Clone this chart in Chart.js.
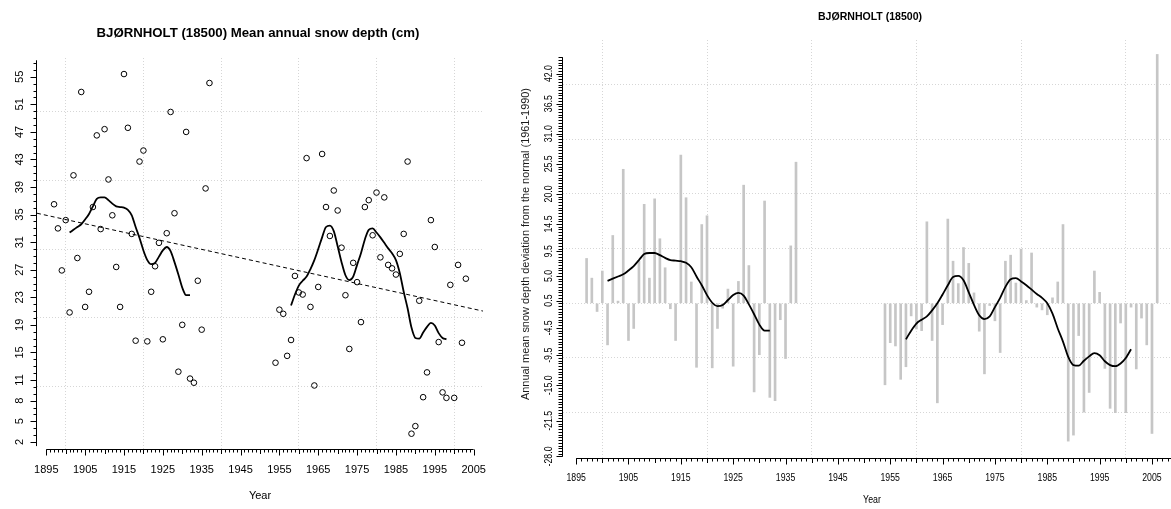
<!DOCTYPE html>
<html>
<head>
<meta charset="utf-8">
<script src="https://cdn.jsdelivr.net/npm/chart.js@4.4.1/dist/chart.umd.min.js"></script>
<style>
  html, body { margin: 0; padding: 0; background: #fff; overflow: hidden; }
  body { width: 1171px; height: 509px; position: relative; }
  canvas { position: absolute; top: 0; }
  #left { left: 0; }
  #right { left: 510px; }
</style>
</head>
<body>
<canvas id="left" width="516" height="509"></canvas>
<canvas id="right" width="720" height="509"></canvas>
<script>
// ---- data ----

// years with an observation (left panel)
const years = [1897, 1898, 1899, 1900, 1901, 1902, 1903, 1904, 1905, 1906, 1907, 1908, 1909, 1910,
  1911, 1912, 1913, 1914, 1915, 1916, 1917, 1918, 1919, 1920, 1921, 1922, 1923, 1924, 1925, 1926,
  1927, 1928, 1929, 1930, 1931, 1932, 1933, 1934, 1935, 1936, 1937,
  1954, 1955, 1956, 1957, 1958, 1959, 1960, 1961, 1962, 1963, 1964, 1965, 1966, 1967, 1968, 1969,
  1970, 1971, 1972, 1973, 1974, 1975, 1976, 1977, 1978, 1979, 1980, 1981, 1982, 1983, 1984, 1985,
  1986, 1987, 1988, 1989, 1990, 1991, 1992, 1993, 1994, 1995, 1996, 1997, 1998, 1999, 2000, 2001,
  2002, 2003];

// mean annual snow depth (cm)
const snowDepth = [36.5, 33.0, 26.9, 34.2, 20.8, 40.7, 28.7, 52.8, 21.6, 23.8, 36.1, 46.5, 32.9, 47.4,
  40.1, 34.9, 27.4, 21.6, 55.4, 47.6, 32.2, 16.7, 42.7, 44.3, 16.6, 23.8, 27.5, 30.9, 16.9, 32.3,
  49.9, 35.2, 12.2, 19.0, 47.0, 11.2, 10.6, 25.4, 18.3, 38.8, 54.1,
  13.5, 21.2, 20.6, 14.5, 16.8, 26.1, 23.7, 23.4, 43.2, 21.6, 10.2, 24.5, 43.8, 36.1, 31.9, 38.5,
  35.6, 30.2, 23.3, 15.5, 28.0, 25.2, 19.4, 36.1, 37.1, 32.0, 38.2, 28.8, 37.5, 27.7, 27.2, 26.3,
  29.3, 32.2, 42.7, 3.2, 4.3, 22.5, 8.5, 12.1, 34.2, 30.3, 16.5, 9.2, 8.4, 24.8, 8.4, 27.7,
  16.4, 25.7];

// smoothed curve, left panel
const smoothYearsA = [1901, 1902, 1903, 1904, 1905, 1906, 1907, 1908, 1909, 1910, 1911, 1912, 1913,
  1914, 1915, 1916, 1917, 1918, 1919, 1920, 1921, 1922, 1923, 1924, 1925, 1926, 1927, 1928, 1929,
  1930, 1931, 1932];
const smoothA = [32.4, 32.8, 33.2, 33.6, 34.3, 35.1, 36.2, 37.3, 37.5, 37.5, 37.1, 36.6, 36.2,
  36.1, 36.0, 35.7, 34.9, 33.2, 31.6, 29.8, 28.4, 27.8, 28.0, 28.9, 29.8, 30.3, 29.7, 28.1, 26.3,
  24.4, 23.3, 23.3];
const smoothYearsB = [1958, 1959, 1960, 1961, 1962, 1963, 1964, 1965, 1966, 1967, 1968, 1969, 1970,
  1971, 1972, 1973, 1974, 1975, 1976, 1977, 1978, 1979, 1980, 1981, 1982, 1983, 1984, 1985, 1986,
  1987, 1988, 1989, 1990, 1991, 1992, 1993, 1994, 1995, 1996, 1997, 1998];
const smoothB = [21.8, 23.4, 24.7, 25.4, 26.0, 27.1, 28.4, 30.0, 31.7, 33.2, 33.4, 32.6, 30.4,
  28.1, 26.2, 25.5, 26.0, 27.7, 29.4, 31.4, 32.8, 33.0, 32.4, 31.7, 30.9, 30.1, 29.4, 28.4, 26.5,
  23.8, 21.4, 18.6, 17.1, 17.0, 17.9, 18.7, 19.3, 18.9, 17.8, 17.1, 16.9];

// linear trend (dashed), end points at the plot edges
const trendYears = [1892.6, 2007.4];
const trendDepth = [35.2, 21.0];

// deviation from the 1961-1990 normal (right panel)
const devYears = years.concat([2004, 2005, 2006]);
const deviation = [8.2, 4.6, -1.5, 5.9, -7.6, 12.4, 0.4, 24.5, -6.8, -4.6, 7.7, 18.1, 4.6, 19.1,
  11.8, 6.5, -1.0, -6.8, 27.1, 19.3, 3.9, -11.7, 14.4, 16.0, -11.8, -4.6, -0.9, 2.6, -11.5, 4.0,
  21.6, 6.9, -16.2, -9.4, 18.7, -17.2, -17.8, -3.0, -10.1, 10.5, 25.8,
  -14.9, -7.2, -7.8, -13.9, -11.6, -2.3, -4.7, -5.0, 14.9, -6.8, -18.2, -3.9, 15.4, 7.7, 3.6, 10.2,
  7.3, 1.9, -5.1, -12.9, -0.4, -3.2, -9.0, 7.7, 8.8, 3.7, 9.9, 0.5, 9.2, -0.7, -1.2, -2.1,
  1.0, 3.9, 14.4, -25.2, -24.1, -5.9, -19.9, -16.3, 5.9, 2.0, -11.9, -19.2, -20.0, -3.6, -20.0, -0.7,
  -12.0, -2.7, -7.6, -23.8, 45.5];

// smoothed deviation curve
const devSmoothA = [4.1, 4.5, 4.9, 5.3, 6.0, 6.8, 7.9, 9.0, 9.2, 9.2, 8.8, 8.3, 7.9,
  7.8, 7.7, 7.4, 6.6, 4.9, 3.3, 1.5, 0.1, -0.5, -0.3, 0.6, 1.5, 1.9, 1.4, -0.2, -2.0,
  -3.9, -5.0, -5.0];
const devSmoothYearsB = smoothYearsB.concat([1999, 2000, 2001]);
const devSmoothB = [-6.6, -5.0, -3.7, -3.0, -2.4, -1.3, 0.0, 1.6, 3.3, 4.8, 5.0, 4.2, 2.0,
  -0.3, -2.2, -2.9, -2.4, -0.7, 1.0, 3.0, 4.4, 4.6, 4.0, 3.3, 2.5, 1.7, 1.0, 0.0, -1.9,
  -4.6, -7.0, -9.8, -11.3, -11.4, -10.5, -9.7, -9.1, -9.5, -10.6, -11.3, -11.5, -11.0, -10.0, -8.4];

// tick labels and grid lines
const yearTicks = [1895, 1905, 1915, 1925, 1935, 1945, 1955, 1965, 1975, 1985, 1995, 2005];
const depthTicks = [2, 5, 8, 11, 15, 19, 23, 27, 31, 35, 39, 43, 47, 51, 55];
const devTicks = [-28.0, -21.5, -15.0, -9.5, -4.5, 0.5, 5.0, 9.5, 14.5, 20.0, 25.5, 31.0, 36.5, 42.0];
const yearGrid = [1900, 1920, 1940, 1960, 1980, 2000];
const depthGrid = [10, 20, 30, 40, 50];
const devGrid = [-20, -10, 0, 10, 20, 30, 40];

// ---- helpers ----
function pts(xs, ys) {
  return xs.map((x, i) => ({ x: x, y: ys[i] }));
}

function drawText(ctx, str, x, y, o) {
  ctx.save();
  ctx.translate(x, y);
  if (o.rot) ctx.rotate(o.rot);
  ctx.font = o.font;
  let sx = o.sx || 1;
  if (o.width) sx = o.width / ctx.measureText(str).width;
  ctx.scale(sx, 1);
  ctx.textAlign = "center";
  ctx.textBaseline = "middle";
  ctx.fillStyle = o.color || "#000";
  ctx.fillText(str, 0, 0);
  ctx.restore();
}

// R-style axes drawn from the chart's own scales
const rAxes = {
  id: "rAxes",
  afterDraw(chart, args, o) {
    const ctx = chart.ctx;
    const xs = chart.scales.x;
    const ys = chart.scales.y;
    const a = chart.chartArea;
    ctx.save();
    ctx.strokeStyle = "#000";
    ctx.lineWidth = 1;

    // x axis
    const by = Math.round(a.bottom) + 0.5;
    ctx.beginPath();
    ctx.moveTo(xs.getPixelForValue(o.xFrom), by);
    ctx.lineTo(xs.getPixelForValue(o.xTo), by);
    for (let t = Math.ceil(o.xFrom); t <= o.xTo; t++) {
      const px = Math.round(xs.getPixelForValue(t)) + 0.5;
      const len = t % 10 === 5 ? 6 : t % 5 === 0 ? 4.5 : 3;
      ctx.moveTo(px, by);
      ctx.lineTo(px, by + len);
    }
    ctx.stroke();
    o.xLabels.forEach((t) => {
      drawText(ctx, String(t), xs.getPixelForValue(t), by + o.xDy, { font: o.font, sx: o.sx });
    });

    // y axis
    const lx = Math.round(a.left) - 0.5;
    ctx.beginPath();
    ctx.moveTo(lx, ys.getPixelForValue(o.yFrom));
    ctx.lineTo(lx, ys.getPixelForValue(o.yTo));
    for (let v = o.yMinor0; v <= o.yTo + 1e-6; v += o.yStep) {
      const py = Math.round(ys.getPixelForValue(v)) + 0.5;
      ctx.moveTo(lx, py);
      ctx.lineTo(lx - o.yMinorLen, py);
    }
    o.yLabels.forEach((v) => {
      const py = Math.round(ys.getPixelForValue(v)) + 0.5;
      ctx.moveTo(lx, py);
      ctx.lineTo(lx - o.yMajorLen, py);
    });
    ctx.stroke();
    o.yLabels.forEach((v) => {
      drawText(ctx, v.toFixed(o.decimals), lx - o.yDx, ys.getPixelForValue(v),
        { font: o.font, sx: o.sx, rot: -Math.PI / 2 });
    });
    ctx.restore();

    // titles
    o.texts.forEach((t) => drawText(ctx, t.text, t.x, t.y, t));
  },
};

function gridScale(min, max, values) {
  return {
    type: "linear",
    min: min,
    max: max,
    offset: false,
    afterBuildTicks: (s) => {
      s.ticks = values.map((v) => ({ value: v }));
    },
    ticks: { display: false },
    grid: { color: "#d6d6d6", lineWidth: 1, drawTicks: false, offset: false },
    border: { display: false, dash: [1, 2] },
  };
}

// ---- left panel: mean annual snow depth ----
new Chart(document.getElementById("left"), {
  type: "scatter",
  data: {
    datasets: [
      {
        type: "line",
        data: pts(trendYears, trendDepth),
        borderColor: "#000",
        borderWidth: 1,
        borderDash: [4, 3],
        pointRadius: 0,
      },
      {
        type: "line",
        data: pts(smoothYearsA, smoothA),
        borderColor: "#000",
        borderWidth: 1.8,
        pointRadius: 0,
        cubicInterpolationMode: "monotone",
      },
      {
        type: "line",
        data: pts(smoothYearsB, smoothB),
        borderColor: "#000",
        borderWidth: 1.8,
        pointRadius: 0,
        cubicInterpolationMode: "monotone",
      },
      {
        data: pts(years, snowDepth),
        pointRadius: 2.8,
        pointBorderWidth: 1,
        borderColor: "#000",
        backgroundColor: "rgba(0,0,0,0)",
      },
    ],
  },
  options: {
    responsive: false,
    animation: false,
    events: [],
    layout: { padding: { left: 37, right: 33, top: 58, bottom: 60 } },
    plugins: {
      legend: { display: false },
      tooltip: { enabled: false },
      rAxes: {
        xFrom: 1895, xTo: 2005, xLabels: yearTicks, xDy: 20,
        yFrom: 1.4, yTo: 57.4, yMinor0: 2, yStep: 1, yLabels: depthTicks,
        yMinorLen: 3, yMajorLen: 6, yDx: 17, decimals: 0,
        font: '11px "Liberation Sans", Arial, sans-serif', sx: 1,
        texts: [
          { text: "BJØRNHOLT (18500) Mean annual snow depth (cm)", x: 258, y: 33,
            font: 'bold 13px "Liberation Sans", Arial, sans-serif', width: 323 },
          { text: "Year", x: 260, y: 496, font: '11px "Liberation Sans", Arial, sans-serif' },
        ],
      },
    },
    scales: {
      x: gridScale(1892.61, 2007.41, yearGrid),
      y: gridScale(0.98, 57.73, depthGrid),
    },
  },
  plugins: [rAxes],
});

// ---- right panel: deviation from the normal ----
new Chart(document.getElementById("right"), {
  type: "bar",
  data: {
    datasets: [
      {
        type: "line",
        data: pts(smoothYearsA, devSmoothA),
        borderColor: "#000",
        borderWidth: 1.8,
        pointRadius: 0,
        cubicInterpolationMode: "monotone",
      },
      {
        type: "line",
        data: pts(devSmoothYearsB, devSmoothB),
        borderColor: "#000",
        borderWidth: 1.8,
        pointRadius: 0,
        cubicInterpolationMode: "monotone",
      },
      {
        type: "bar",
        data: pts(devYears, deviation),
        backgroundColor: "#c6c6c6",
        barThickness: 2,
        grouped: false,
        clip: false,
      },
    ],
  },
  options: {
    responsive: false,
    animation: false,
    events: [],
    layout: { padding: { left: 53.3, right: 52, top: 40, bottom: 51.3 } },
    plugins: {
      legend: { display: false },
      tooltip: { enabled: false },
      rAxes: {
        xFrom: 1895, xTo: 2010, xLabels: yearTicks, xDy: 19,
        yFrom: -28, yTo: 45, yMinor0: -28, yStep: 0.5, yLabels: devTicks,
        yMinorLen: 4, yMajorLen: 6, yDx: 14, decimals: 1,
        font: '11.5px "Liberation Sans", Arial, sans-serif', sx: 0.76,
        texts: [
          { text: "BJØRNHOLT (18500)", x: 360, y: 17,
            font: 'bold 11px "Liberation Sans", Arial, sans-serif', width: 104 },
          { text: "Year", x: 362, y: 500, font: '11px "Liberation Sans", Arial, sans-serif', sx: 0.8 },
          { text: "Annual mean snow depth deviation from the normal (1961-1990)", x: 16.7, y: 244,
            rot: -Math.PI / 2, font: '10px "Liberation Sans", Arial, sans-serif', width: 312, color: "#1a1a1a" },
        ],
      },
    },
    scales: {
      x: gridScale(1892.55, 2009.97, yearGrid),
      y: gridScale(-28.23, 48.14, devGrid),
    },
  },
  plugins: [rAxes],
});
</script>
</body>
</html>
